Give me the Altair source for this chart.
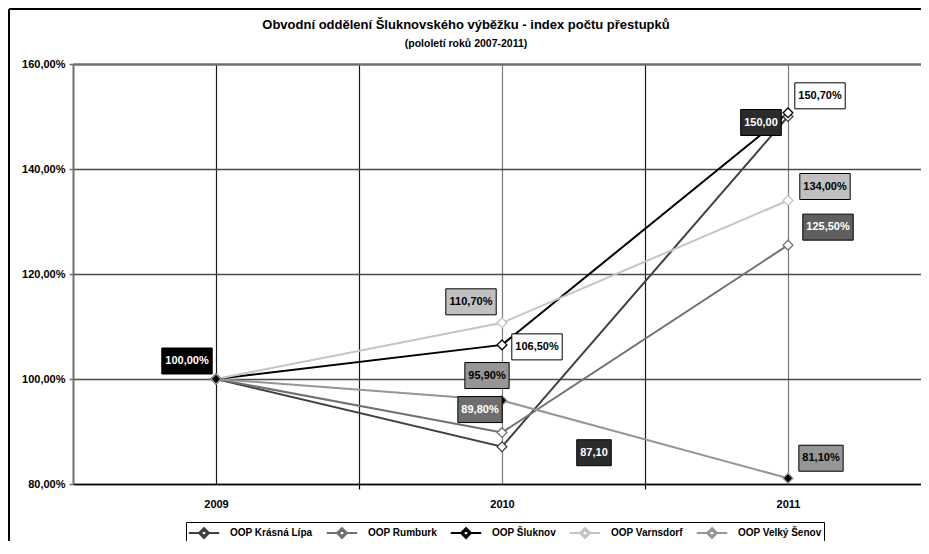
import altair as alt
import pandas as pd

# ---------------- data ----------------
title_text = "Obvodní oddělení Šluknovského výběžku - index počtu přestupků"
subtitle_text = "(pololetí roků 2007-2011)"
years = ["2009", "2010", "2011"]
series = ["OOP Krásná Lípa", "OOP Rumburk", "OOP Šluknov", "OOP Varnsdorf", "OOP Velký Šenov"]
krasna_lipa = [100.0, 87.1, 150.0]
rumburk = [100.0, 89.8, 125.5]
sluknov = [100.0, 106.5, 150.7]
varnsdorf = [100.0, 110.7, 134.0]
velky_senov = [100.0, 95.9, 81.1]
y_ticks = [80, 100, 120, 140, 160]

# data labels (series index, year index, text as printed in the chart)
label_series = [0, 0, 0, 1, 1, 2, 2, 3, 3, 4, 4]
label_year = [0, 1, 2, 1, 2, 1, 2, 1, 2, 1, 2]
label_text = ["100,00%", "87,10", "150,00", "89,80%", "125,50%", "106,50%",
              "150,70%", "110,70%", "134,00%", "95,90%", "81,10%"]

# ---------------- style ----------------
FONT = "Liberation Sans, Arial, sans-serif"
line_colors = ["#404040", "#707070", "#000000", "#c4c4c4", "#969696"]
marker_fill = ["#ffffff", "#ffffff", "#ffffff", "#ffffff", "#000000"]
line_widths = [2, 2, 2, 2.5, 2]
# per label: (dx, dy, box fill, text colour)
label_style = [
    (-29, -18, "#000000", "#ffffff"),
    (92, 6, "#2b2b2b", "#ffffff"),
    (-27, 6, "#2b2b2b", "#ffffff"),
    (-22, -23, "#6e6e6e", "#ffffff"),
    (40, -18, "#5f5f5f", "#ffffff"),
    (35, 2, "#ffffff", "#000000"),
    (32, -17, "#ffffff", "#000000"),
    (-31, -21, "#c0c0c0", "#000000"),
    (37, -14, "#c0c0c0", "#000000"),
    (-15, -25, "#969696", "#000000"),
    (33, -20, "#969696", "#000000"),
]
LABEL_FS = 11

W, H = 848, 420
PAD_L, PAD_T, PAD_B = 65, 56, 57

values = [krasna_lipa, rumburk, sluknov, varnsdorf, velky_senov]
rows = []
for s, vals in zip(series, values):
    for i, v in enumerate(vals):
        rows.append({"serie": s, "xi": i, "rok": years[i], "hodnota": v})
df = pd.DataFrame(rows)

xscale = alt.Scale(domain=[-0.5, 2.465], nice=False, zero=False)
yscale = alt.Scale(domain=[80, 160], nice=False, zero=False)

year_expr = "[" + ",".join("'%s'" % y for y in years) + "]"
x_axis = alt.Axis(
    values=[0, 0.5, 1, 1.5, 2],
    labelExpr="datum.value % 1 === 0 ? " + year_expr + "[datum.value] : ''",
    title=None, grid=True,
    gridColor={"condition": {"test": "datum.value >= 1 && datum.value % 1 === 0", "value": "#7a7a7a"}, "value": "#1a1a1a"},
    gridWidth=1.2,
    tickColor={"condition": {"test": "datum.value % 1 === 0", "value": "transparent"}, "value": "#000000"},
    tickSize=5, tickWidth=1.2,
    domainColor="#000000", domainWidth=1.5,
    labelFont=FONT, labelFontSize=11, labelFontWeight="bold", labelColor="#000000",
    labelPadding=9,
)
y_axis = alt.Axis(
    values=y_ticks,
    labelExpr="replace(format(datum.value, '.2f'), '.', ',') + '%'",
    title=None, grid=True,
    gridColor={"condition": {"test": "datum.value == 160", "value": "#6e6e6e"},
               "value": "#4a4a4a"},
    gridWidth={"condition": {"test": "datum.value == 160", "value": 2.5}, "value": 1.3},
    tickColor="#6e6e6e", tickSize=4, tickWidth=1.5,
    domainColor="#6e6e6e", domainWidth=2,
    labelFont=FONT, labelFontSize=11, labelFontWeight="bold", labelColor="#000000",
    labelPadding=4,
)

# line with a hollow diamond (outer diamond + reversed inner diamond = ring);
# drawn wider than its nominal symbol size so the legend rows stay short
legend_symbol = ("M-1.9,0L-0.62,0M0.62,0L1.9,0"
                 "M0,-0.62L0.62,0L0,0.62L-0.62,0Z"
                 "M0,-0.4L-0.4,0L0,0.4L0.4,0Z")

stroke_enc = alt.Stroke(
    "serie:N",
    scale=alt.Scale(domain=series, range=line_colors),
    sort=series,
    legend=alt.Legend(
        orient="none", legendX=113, legendY=458, direction="horizontal", columns=5,
        title=None, strokeColor="#000000", fillColor="#ffffff", padding=2,
        symbolType=legend_symbol, symbolSize=256, symbolStrokeWidth=1.6,
        symbolFillColor="#ffffff", symbolOffset=7,
        labelFont=FONT, labelFontSize=10, labelFontWeight="bold", labelColor="#000000",
        labelOffset=17, columnPadding=9,
    ),
)

base = alt.Chart(df)
lines = base.mark_line(strokeWidth=2).encode(
    x=alt.X("xi:Q", scale=xscale, axis=x_axis),
    y=alt.Y("hodnota:Q", scale=yscale, axis=y_axis),
    stroke=stroke_enc,
    strokeWidth=alt.StrokeWidth("serie:N", scale=alt.Scale(domain=series, range=line_widths), legend=None),
    detail="serie:N",
)
points = base.mark_point(shape="diamond", size=95, filled=False, strokeWidth=1.3, opacity=1).encode(
    x=alt.X("xi:Q", scale=xscale),
    y=alt.Y("hodnota:Q", scale=yscale),
    stroke=alt.Stroke("serie:N", scale=alt.Scale(domain=series, range=line_colors), sort=series),
    fill=alt.Fill("serie:N", scale=alt.Scale(domain=series, range=marker_fill), legend=None),
)

layers = [lines, points]

def text_width(t):
    w = 0.0
    for ch in t:
        if ch.isdigit():
            w += 0.556
        elif ch == ",":
            w += 0.278
        elif ch == "%":
            w += 0.889
        else:
            w += 0.6
    return w * LABEL_FS

BOX_H = 26
for k, txt in enumerate(label_text):
    si = label_series[k]
    yi = label_year[k]
    dx, dy, fillc, txtc = label_style[k]
    ldf = pd.DataFrame({"xi": [yi], "hodnota": [values[si][yi]], "t": [txt]})
    w = text_width(txt) + 7
    r = BOX_H / w
    path = "M-1,-{r:.4f}L1,-{r:.4f}L1,{r:.4f}L-1,{r:.4f}Z".format(r=r)
    box = alt.Chart(ldf).mark_point(
        shape=path, size=w * w, filled=True, fill=fillc, stroke="#000000",
        strokeWidth=1, opacity=1, fillOpacity=1, xOffset=dx, yOffset=dy,
    ).encode(x=alt.X("xi:Q", scale=xscale), y=alt.Y("hodnota:Q", scale=yscale))
    lab = alt.Chart(ldf).mark_text(
        font=FONT, fontSize=LABEL_FS, fontWeight="bold", color=txtc, dx=dx, dy=dy,
        align="center", baseline="middle",
    ).encode(x=alt.X("xi:Q", scale=xscale), y=alt.Y("hodnota:Q", scale=yscale), text="t:N")
    layers += [box, lab]

# chart frame and titles
frame_df = pd.DataFrame({"a": [0]})
frame_left = alt.Chart(frame_df).mark_rule(color="#000000", strokeWidth=2).encode(
    x=alt.value(1 - PAD_L), y=alt.value(1 - PAD_T), y2=alt.value(H + PAD_B))
frame_top = alt.Chart(frame_df).mark_rule(color="#000000", strokeWidth=2).encode(
    x=alt.value(1 - PAD_L), x2=alt.value(W), y=alt.value(1 - PAD_T))
title_df = pd.DataFrame({"t": [title_text]})
subtitle_df = pd.DataFrame({"t": [subtitle_text]})
title_mark = alt.Chart(title_df).mark_text(
    font=FONT, fontSize=13, fontWeight="bold", color="#000000", align="center", baseline="middle",
).encode(x=alt.value(393), y=alt.value(-39), text="t:N")
subtitle_mark = alt.Chart(subtitle_df).mark_text(
    font=FONT, fontSize=10.5, fontWeight="bold", color="#000000", align="center", baseline="middle",
).encode(x=alt.value(393), y=alt.value(-20), text="t:N")
layers += [frame_left, frame_top, title_mark, subtitle_mark]

chart = alt.layer(*layers).properties(
    width=W, height=H,
    autosize=alt.AutoSizeParams(type="none"),
    padding={"left": PAD_L, "top": PAD_T, "right": 0, "bottom": PAD_B},
).resolve_scale(stroke="shared", fill="independent").configure_view(
    fill="#f2f2f2", stroke=None
).configure(background="#ffffff")

chart.save("out.html", embed_options={"renderer": "svg", "actions": False})
